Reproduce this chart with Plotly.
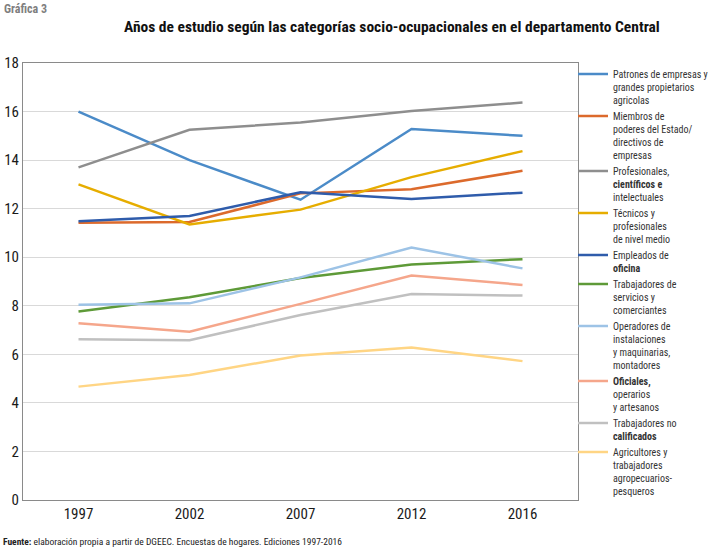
import plotly.graph_objects as go

years = ["1997", "2002", "2007", "2012", "2016"]

patrones = [16.0, 14.0, 12.37, 15.28, 15.0]
miembros = [11.42, 11.45, 12.63, 12.8, 13.56]
profesionales = [13.7, 15.25, 15.55, 16.02, 16.37]
tecnicos = [13.0, 11.35, 11.96, 13.3, 14.37]
empleados = [11.48, 11.7, 12.68, 12.4, 12.66]
servicios = [7.76, 8.35, 9.14, 9.7, 9.92]
operadores = [8.04, 8.1, 9.17, 10.4, 9.54]
oficiales = [7.28, 6.93, 8.08, 9.25, 8.86]
no_calificados = [6.62, 6.58, 7.62, 8.48, 8.42]
agricultores = [4.67, 5.15, 5.95, 6.28, 5.72]

names = [
    "Patrones de empresas y<br>grandes propietarios<br>agricolas",
    "Miembros de<br>poderes del Estado/<br>directivos de<br>empresas",
    "Profesionales,<br><b>científicos e</b><br>intelectuales",
    "Técnicos y<br>profesionales<br>de nivel medio",
    "Empleados de<br><b>oficina</b>",
    "Trabajadores de<br>servicios y<br>comerciantes",
    "Operadores de<br>instalaciones<br>y maquinarias,<br>montadores",
    "<b>Oficiales,</b><br>operarios<br>y artesanos",
    "Trabajadores no<br><b>calificados</b>",
    "Agricultores y<br>trabajadores<br>agropecuarios-<br>pesqueros",
]
series = [patrones, miembros, profesionales, tecnicos, empleados,
          servicios, operadores, oficiales, no_calificados, agricultores]
colors = ["#4b8bc8", "#dc6a2c", "#8e8e8e", "#e6ad00", "#2f5cab",
          "#5e9a38", "#9dc3e6", "#f5a68b", "#c0c0c0", "#ffd584"]

FONT = "Liberation Sans Narrow, Roboto Condensed, Arial Narrow, Liberation Sans, sans-serif"

fig = go.Figure()
for n, s, c in zip(names, series, colors):
    fig.add_trace(go.Scatter(x=years, y=s, name=n, mode="lines",
                             line=dict(color=c, width=2.5)))

fig.update_layout(
    width=716, height=549,
    margin=dict(l=23, r=138, t=63, b=49, autoexpand=False),
    paper_bgcolor="white", plot_bgcolor="white",
    font=dict(family=FONT, color="#1a1a1a"),
    showlegend=True,
    legend=dict(x=(573-23)/555, xanchor="left", y=(500-61)/437, yanchor="top",
                font=dict(size=10, family=FONT, color="#333333"),
                valign="top", tracegroupgap=0, borderwidth=0, maxheight=1,
                bgcolor="rgba(0,0,0,0)"),
    xaxis=dict(type="category", range=[-0.5, 4.5], showgrid=False,
               showline=True, linecolor="#8a8a8a", linewidth=1, mirror=True,
               ticks="", tickfont=dict(size=15, family=FONT, color="#1a1a1a")),
    yaxis=dict(range=[0, 18], dtick=2, showgrid=True, gridcolor="#d9d9d9",
               gridwidth=1, zeroline=False, showline=True, linecolor="#8a8a8a",
               linewidth=1, mirror=True, ticks="",
               tickfont=dict(size=15, family=FONT, color="#1a1a1a")),
)

fig.add_annotation(text="<b>Gráfica 3</b>", xref="paper", yref="paper",
                   x=-21/555, y=(500-9)/437, xanchor="left", yanchor="middle",
                   showarrow=False, font=dict(size=12, family=FONT, color="#7f7f7f"))
fig.add_annotation(text="<b>Años de estudio según las categorías socio-ocupacionales en el departamento Central</b>",
                   xref="paper", yref="paper", x=(392-23)/555, y=(500-27)/437,
                   xanchor="center", yanchor="middle", showarrow=False,
                   font=dict(size=15.5, family=FONT, color="#111111"))
fig.add_annotation(text="<b>Fuente:</b> elaboración propia a partir de DGEEC. Encuestas de hogares. Ediciones 1997-2016",
                   xref="paper", yref="paper", x=-22/555, y=(500-541)/437,
                   xanchor="left", yanchor="middle", showarrow=False,
                   font=dict(size=9.5, family=FONT, color="#222222"))

fig.write_html("out.html", config={"displayModeBar": False},
               post_script="document.body.style.margin='0';document.body.style.overflow='hidden';")
